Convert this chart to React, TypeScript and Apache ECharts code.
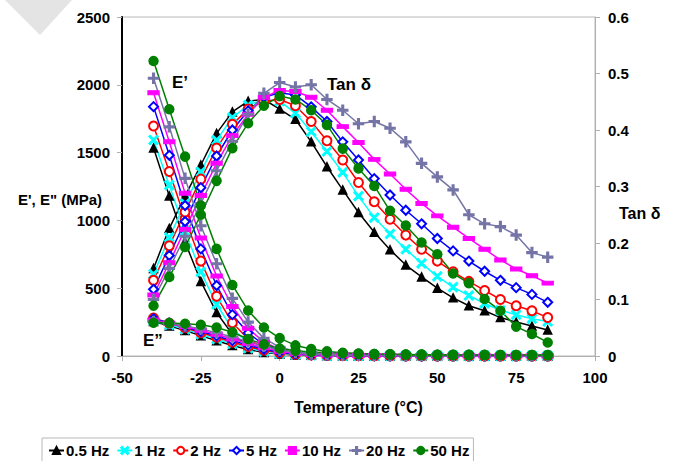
import React, { useEffect, useRef } from "react";
import * as echarts from "echarts";

// Temperature (°C)
const temps = [-40, -35, -30, -25, -20, -15, -10, -5, 0, 5, 10, 15, 20, 25, 30, 35, 40, 45, 50, 55, 60, 65, 70, 75, 80, 85];

const freqNames = ["0.5 Hz", "1 Hz", "2 Hz", "5 Hz", "10 Hz", "20 Hz", "50 Hz"];

// Storage modulus E' (MPa)
const ePrime05 = [1534, 1180, 840, 550, 320, 160, 75, 35, 18, 10, 6, 4, 3, 2, 2, 2, 1, 1, 1, 1, 1, 1, 1, 1, 1, 1];
const ePrime1 = [1593, 1260, 920, 620, 380, 200, 95, 45, 22, 12, 8, 5, 4, 3, 2, 2, 2, 1, 1, 1, 1, 1, 1, 1, 1, 1];
const ePrime2 = [1696, 1360, 1010, 700, 440, 245, 125, 58, 28, 15, 9, 6, 4, 3, 3, 2, 2, 2, 1, 1, 1, 1, 1, 1, 1, 1];
const ePrime5 = [1839, 1480, 1110, 790, 520, 305, 170, 82, 40, 20, 12, 8, 5, 4, 3, 3, 2, 2, 2, 1, 1, 1, 1, 1, 1, 1];
const ePrime10 = [1942, 1580, 1200, 870, 590, 365, 205, 102, 50, 25, 15, 10, 7, 5, 4, 3, 3, 2, 2, 2, 2, 1, 1, 1, 1, 1];
const ePrime20 = [2048, 1690, 1310, 960, 680, 425, 250, 130, 65, 35, 20, 13, 9, 7, 5, 4, 4, 3, 3, 2, 2, 2, 2, 2, 2, 2];
const ePrime50 = [2176, 1820, 1470, 1110, 790, 524, 335, 210, 132, 78, 52, 34, 24, 18, 15, 13, 11, 10, 9, 8, 8, 7, 7, 7, 7, 7];

// Loss modulus E'' (MPa)
const eDouble05 = [255, 222, 188, 150, 112, 78, 48, 26, 14, 8, 5, 3, 2, 2, 1, 1, 1, 1, 1, 1, 1, 1, 1, 1, 1, 1];
const eDouble1 = [262, 230, 198, 160, 124, 90, 58, 33, 17, 10, 6, 4, 3, 2, 2, 1, 1, 1, 1, 1, 1, 1, 1, 1, 1, 1];
const eDouble2 = [280, 242, 208, 172, 138, 102, 70, 42, 23, 12, 8, 5, 3, 3, 2, 2, 1, 1, 1, 1, 1, 1, 1, 1, 1, 1];
const eDouble5 = [275, 244, 213, 180, 148, 113, 80, 50, 28, 15, 9, 6, 4, 3, 3, 2, 2, 2, 1, 1, 1, 1, 1, 1, 1, 1];
const eDouble10 = [265, 242, 218, 190, 160, 125, 92, 60, 35, 19, 11, 7, 5, 4, 3, 3, 2, 2, 2, 2, 1, 1, 1, 1, 1, 1];
const eDouble20 = [255, 240, 222, 200, 172, 140, 105, 72, 44, 25, 14, 9, 6, 5, 4, 3, 3, 2, 2, 2, 2, 2, 2, 2, 2, 2];
const eDouble50 = [245, 243, 238, 230, 210, 175, 125, 86, 55, 38, 30, 24, 20, 16, 14, 12, 11, 10, 9, 8, 8, 8, 7, 7, 7, 7];

// Tan delta (right axis)
const tan05 = [0.155, 0.226, 0.283, 0.338, 0.394, 0.432, 0.451, 0.454, 0.437, 0.419, 0.379, 0.335, 0.294, 0.254, 0.219, 0.188, 0.161, 0.140, 0.120, 0.103, 0.089, 0.080, 0.068, 0.060, 0.053, 0.046];
const tan1 = [0.145, 0.210, 0.270, 0.326, 0.382, 0.422, 0.444, 0.454, 0.451, 0.430, 0.397, 0.362, 0.325, 0.283, 0.245, 0.216, 0.189, 0.164, 0.141, 0.122, 0.107, 0.093, 0.081, 0.073, 0.066, 0.061];
const tan2 = [0.134, 0.195, 0.255, 0.313, 0.368, 0.410, 0.437, 0.451, 0.454, 0.443, 0.415, 0.381, 0.347, 0.307, 0.273, 0.242, 0.214, 0.189, 0.168, 0.149, 0.132, 0.116, 0.100, 0.089, 0.080, 0.068];
const tan5 = [0.118, 0.178, 0.238, 0.298, 0.354, 0.400, 0.434, 0.458, 0.466, 0.462, 0.441, 0.415, 0.379, 0.347, 0.314, 0.285, 0.258, 0.234, 0.208, 0.186, 0.168, 0.150, 0.134, 0.121, 0.109, 0.095];
const tan10 = [0.108, 0.165, 0.224, 0.284, 0.341, 0.390, 0.428, 0.458, 0.470, 0.468, 0.458, 0.435, 0.406, 0.378, 0.348, 0.322, 0.295, 0.270, 0.248, 0.228, 0.208, 0.189, 0.170, 0.154, 0.142, 0.129];
const tan20 = [0.100, 0.155, 0.212, 0.270, 0.328, 0.380, 0.428, 0.465, 0.484, 0.476, 0.480, 0.454, 0.435, 0.411, 0.415, 0.403, 0.379, 0.341, 0.317, 0.294, 0.250, 0.234, 0.229, 0.214, 0.183, 0.175];
const tan50 = [0.089, 0.140, 0.193, 0.250, 0.310, 0.368, 0.412, 0.443, 0.460, 0.454, 0.435, 0.409, 0.367, 0.332, 0.301, 0.257, 0.231, 0.201, 0.180, 0.146, 0.129, 0.101, 0.080, 0.052, 0.039, 0.024];

const ePrimeSets = [ePrime05, ePrime1, ePrime2, ePrime5, ePrime10, ePrime20, ePrime50];
const eDoubleSets = [eDouble05, eDouble1, eDouble2, eDouble5, eDouble10, eDouble20, eDouble50];
const tanSets = [tan05, tan1, tan2, tan5, tan10, tan20, tan50];

const FONT = "'Liberation Sans', Arial, sans-serif";

const CROSS = "path://M0,1.2 L1.2,0 L5,3.8 L8.8,0 L10,1.2 L6.2,5 L10,8.8 L8.8,10 L5,6.2 L1.2,10 L0,8.8 L3.8,5 Z";
const PLUS = "path://M4.2,0 H5.8 V4.2 H10 V5.8 H5.8 V10 H4.2 V5.8 H0 V4.2 H4.2 Z";

const styles = [
  { color: "#000000", symbol: "triangle", size: 8 },
  { color: "#00ffff", symbol: CROSS, size: 9 },
  { color: "#ff0000", symbol: "emptyCircle", size: 9 },
  { color: "#0000ff", symbol: "emptyDiamond", size: 9 },
  { color: "#ff00ff", symbol: "rect", size: [10, 4] },
  { color: "#7474a6", symbol: PLUS, size: 10 },
  { color: "#008000", symbol: "circle", size: 9 },
];

export default function App() {
  const ref = useRef<HTMLDivElement>(null);
  useEffect(() => {
    const chart = echarts.init(ref.current!, null, { renderer: "svg" });
    const series: any[] = [];
    freqNames.forEach((name, k) => {
      const st = styles[k];
      const sets: [number[], number][] = [
        [ePrimeSets[k], 0],
        [eDoubleSets[k], 0],
        [tanSets[k], 1],
      ];
      sets.forEach(([arr, axis]) => {
        series.push({
          type: "line",
          name,
          yAxisIndex: axis,
          data: temps.map((t, i) => [t, arr[i]]),
          symbol: st.symbol,
          symbolSize: st.size,
          showAllSymbol: true,
          lineStyle: { color: st.color, width: 1.5 },
          itemStyle: { color: st.color, borderColor: st.color, borderWidth: 1.5 },
          emphasis: { disabled: true },
        });
      });
    });

    const axisLabel = { color: "#000", fontFamily: FONT, fontWeight: "bold", fontSize: 15 };

    chart.setOption({
      animation: false,
      backgroundColor: "#ffffff",
      grid: {
        left: 122,
        right: 80,
        top: 17,
        bottom: 105,
        show: true,
        borderColor: "#b8b8b8",
        borderWidth: 1,
      },
      legend: {
        data: freqNames,
        left: 42,
        top: 438,
        itemWidth: 15,
        itemHeight: 9,
        itemGap: 7,
        padding: [5, 4, 12, 6],
        borderColor: "#b8b8b8",
        borderWidth: 1,
        textStyle: { color: "#000", fontFamily: FONT, fontWeight: "bold", fontSize: 15, padding: [0, 0, 0, -3] },
      },
      xAxis: {
        type: "value",
        min: -50,
        max: 100,
        interval: 25,
        name: "Temperature (°C)",
        nameLocation: "middle",
        nameGap: 43,
        nameTextStyle: { color: "#000", fontFamily: FONT, fontWeight: "bold", fontSize: 16 },
        axisLine: { show: true, onZero: false, lineStyle: { color: "#b0b0b0", width: 1 } },
        axisTick: { show: true, length: 5, lineStyle: { color: "#b0b0b0" } },
        axisLabel: { ...axisLabel, margin: 14 },
        splitLine: { show: false },
      },
      yAxis: [
        {
          type: "value",
          min: 0,
          max: 2500,
          interval: 500,
          position: "left",
          axisLine: { show: true, onZero: false, lineStyle: { color: "#000", width: 2 } },
          axisTick: { show: true, length: 5, lineStyle: { color: "#b0b0b0" } },
          axisLabel: { ...axisLabel, margin: 12, formatter: (v: number) => String(v) },
          splitLine: { show: false },
        },
        {
          type: "value",
          min: 0,
          max: 0.6,
          interval: 0.1,
          position: "right",
          axisLine: { show: true, onZero: false, lineStyle: { color: "#b0b0b0", width: 1 } },
          axisTick: { show: true, length: 5, lineStyle: { color: "#b0b0b0" } },
          axisLabel: { ...axisLabel, margin: 13, formatter: (v: number) => (v === 0 ? "0" : v.toFixed(1)) },
          splitLine: { show: false },
        },
      ],
      graphic: [
        {
          type: "polygon",
          shape: { points: [[5, 0], [72, 0], [40, 35]] },
          style: { fill: "#e4e4e4" },
          z: -1,
        },
        {
          type: "text",
          left: 18,
          top: 192,
          style: { text: "E', E\" (MPa)", fill: "#000", font: `bold 15px ${FONT}` },
        },
        {
          type: "text",
          left: 619,
          top: 205,
          style: { text: "Tan δ", fill: "#000", font: `bold 16px ${FONT}` },
        },
        {
          type: "text",
          left: 172,
          top: 74,
          style: { text: "E’", fill: "#000", font: `bold 17px ${FONT}` },
        },
        {
          type: "text",
          left: 143,
          top: 332,
          style: { text: "E”", fill: "#000", font: `bold 17px ${FONT}` },
        },
        {
          type: "text",
          left: 327,
          top: 76,
          style: { text: "Tan δ", fill: "#000", font: `bold 17px ${FONT}` },
        },
      ],
      series,
    });
    return () => chart.dispose();
  }, []);
  return <div ref={ref} style={{ position: "absolute", left: 0, top: 0, width: 675, height: 461 }} />;
}
